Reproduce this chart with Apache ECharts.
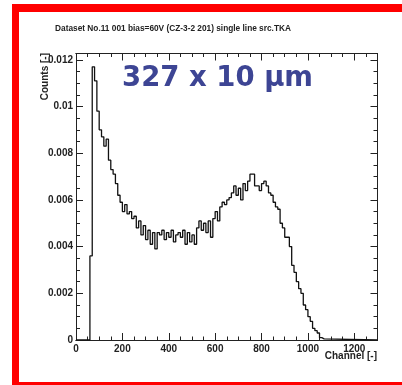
<!DOCTYPE html>
<html>
<head>
<meta charset="utf-8">
<script src="https://cdn.jsdelivr.net/npm/echarts@6/dist/echarts.min.js"></script>
<style>
  html, body { margin: 0; padding: 0; background: #fff; }
  #chart { width: 402px; height: 385px; }
</style>
</head>
<body>
<div id="chart"></div>
<script>
// Spectrum histogram: bin left edges (channel) and normalised counts per bin (width 10)
const binEdges = [
  60, 70, 80, 90, 100, 110, 120, 130, 140, 150, 160, 170, 180, 190,
  200, 210, 220, 230, 240, 250, 260, 270, 280, 290,
  300, 310, 320, 330, 340, 350, 360, 370, 380, 390,
  400, 410, 420, 430, 440, 450, 460, 470, 480, 490,
  500, 510, 520, 530, 540, 550, 560, 570, 580, 590,
  600, 610, 620, 630, 640, 650, 660, 670, 680, 690,
  700, 710, 720, 730, 740, 750, 760, 770, 780, 790,
  800, 810, 820, 830, 840, 850, 860, 870, 880, 890,
  900, 910, 920, 930, 940, 950, 960, 970, 980, 990,
  1000, 1010, 1020, 1030, 1040, 1050, 1060
];
const counts = [
  0.0036, 0.0117, 0.0111, 0.0098, 0.0090, 0.0087, 0.0083, 0.0086, 0.0077, 0.0073, 0.0071, 0.0067, 0.0062, 0.0059,
  0.0055, 0.0058, 0.0054, 0.0055, 0.0052, 0.0053, 0.0048, 0.0051, 0.0045, 0.0049,
  0.0043, 0.0047, 0.0041, 0.0046, 0.0039, 0.0046, 0.0045, 0.0047, 0.0043, 0.0046,
  0.0044, 0.0047, 0.0042, 0.0045, 0.0046, 0.0044, 0.0047, 0.0041, 0.0046, 0.0042,
  0.0045, 0.0041, 0.0048, 0.0051, 0.0047, 0.0050, 0.0046, 0.0051, 0.0044, 0.0052,
  0.0055, 0.0051, 0.0057, 0.0059, 0.0058, 0.0060, 0.0061, 0.0063, 0.0066, 0.0062,
  0.0065, 0.0060, 0.0067, 0.0064, 0.0068, 0.0071, 0.0071, 0.0066, 0.0066, 0.0064,
  0.0067, 0.0068, 0.0066, 0.0063, 0.0062, 0.0059, 0.0057, 0.0056, 0.0050, 0.0048,
  0.0044, 0.0044, 0.0040, 0.0032, 0.0029, 0.0025, 0.0022, 0.0020, 0.0015, 0.0013,
  0.0010, 0.0008, 0.0005, 0.0004, 0.0003, 0.0001, 0.00005
];
const binWidth = 10;

const xRange = [0, 1300];
const yRange = [0, 0.01227];
const xMajor = 200, xMinor = 50;
const yMajor = 0.002, yMinor = 0.0005;

const titleText = 'Dataset No.11 001 bias=60V (CZ-3-2 201) single line src.TKA';
const xName = 'Channel [-]';
const yName = 'Counts [-]';
const sizeLabel = '327 x 10 \u03bcm';

// Outline of the histogram: rise at the first edge, flat tops, fall after the last bin
const histPoints = [[xRange[0], 0], [binEdges[0], 0]];
binEdges.forEach((e, i) => histPoints.push([e, counts[i]]));
histPoints.push([binEdges[binEdges.length - 1] + binWidth, 0]);
histPoints.push([xRange[1], 0]);

const frameColor = '#222';
const labelFont = { fontFamily: 'Liberation Sans, Arial, sans-serif', fontWeight: 'bold', fontSize: 10, color: '#222' };
const plainNumber = v => String(+v.toPrecision(6));

function xAx(position, interval, tickLen, labels) {
  return {
    type: 'value', position, min: xRange[0], max: xRange[1], interval,
    axisLine: { show: true, onZero: false, lineStyle: { color: frameColor, width: 1 } },
    axisTick: { show: true, inside: true, length: tickLen, lineStyle: { color: frameColor, width: 1 } },
    axisLabel: labels ? Object.assign({ show: true, margin: 4, showMaxLabel: false, formatter: plainNumber }, labelFont) : { show: false },
    splitLine: { show: false }
  };
}
function yAx(position, interval, tickLen, labels) {
  return {
    type: 'value', position, min: yRange[0], max: yRange[1], interval,
    axisLine: { show: true, onZero: false, lineStyle: { color: frameColor, width: 1 } },
    axisTick: { show: true, inside: true, length: tickLen, lineStyle: { color: frameColor, width: 1 } },
    axisLabel: labels ? Object.assign({ show: true, margin: 3, showMaxLabel: false, formatter: plainNumber }, labelFont) : { show: false },
    splitLine: { show: false }
  };
}

const chart = echarts.init(document.getElementById('chart'), null, { renderer: 'canvas' });
chart.setOption({
  animation: false,
  backgroundColor: '#fff',
  grid: { left: 76, top: 53.5, right: 24.5, bottom: 45, containLabel: false },
  xAxis: [
    xAx('bottom', xMajor, 7, true),
    xAx('bottom', xMinor, 3.5, false),
    xAx('top', xMajor, 7, false),
    xAx('top', xMinor, 3.5, false)
  ],
  yAxis: [
    yAx('left', yMajor, 7, true),
    yAx('left', yMinor, 4, false),
    yAx('right', yMajor, 7, false),
    yAx('right', yMinor, 4, false)
  ],
  series: [{
    type: 'line',
    xAxisIndex: 0,
    yAxisIndex: 0,
    step: 'end',
    showSymbol: false,
    data: histPoints,
    lineStyle: { color: '#111', width: 1.3 },
    z: 5
  }],
  graphic: [
    // red border
    { type: 'rect', shape: { x: 12, y: 4, width: 390, height: 8 }, style: { fill: '#ff0000' } },
    { type: 'rect', shape: { x: 12, y: 4, width: 7, height: 381 }, style: { fill: '#ff0000' } },
    { type: 'rect', shape: { x: 12, y: 382, width: 390, height: 3 }, style: { fill: '#ff0000' } },
    // title
    { type: 'text', x: 173, y: 29, style: { text: titleText, align: 'center', verticalAlign: 'middle',
      font: 'bold 8.3px "Liberation Sans", Arial, sans-serif', fill: '#222' } },
    // axis titles
    { type: 'text', x: 377, y: 356, style: { text: xName, align: 'right', verticalAlign: 'middle',
      font: 'bold 10px "Liberation Sans", Arial, sans-serif', fill: '#222' } },
    { type: 'text', x: 45, y: 53, rotation: Math.PI / 2, style: { text: yName, align: 'right', verticalAlign: 'middle',
      font: 'bold 10px "Liberation Sans", Arial, sans-serif', fill: '#222' } },
    // sample size annotation
    { type: 'text', x: 122, y: 79, z: 10, style: { text: sizeLabel, align: 'left', verticalAlign: 'middle',
      font: 'bold 27.5px "DejaVu Sans", sans-serif', fill: '#3d4594' } }
  ]
});
</script>
</body>
</html>
